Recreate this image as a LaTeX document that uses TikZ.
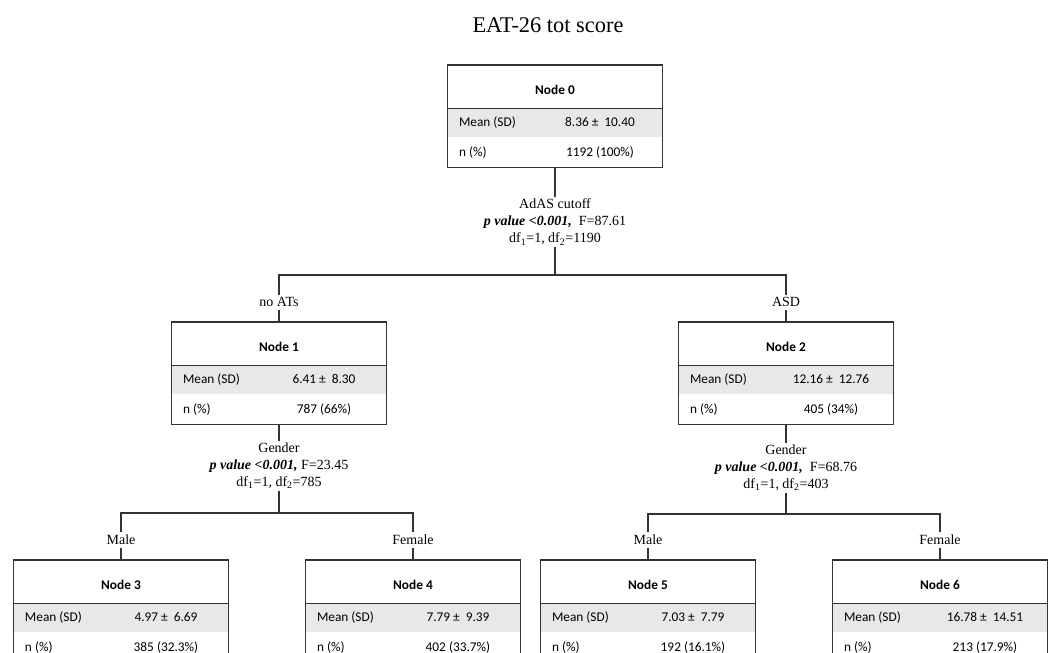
\documentclass[tikz,border=0pt]{standalone}
\usepackage{fontspec}
\setmainfont{Liberation Serif}
\newfontfamily\boxfont{Carlito}
\usetikzlibrary{positioning}
\definecolor{rowgray}{HTML}{E8E8E8}
\definecolor{linegray}{HTML}{333333}

\begin{document}
\begin{tikzpicture}[x=0.75pt, y=-0.75pt,
    hdr/.style={minimum width=160.5pt, minimum height=32.25pt, anchor=north, inner sep=0pt,
      text height=12pt, text depth=0pt, font={\fontsize{10}{12}\selectfont\boxfont\bfseries}},
    meanrow/.style={fill=rowgray, minimum width=160.5pt, minimum height=21pt, anchor=north, inner sep=0pt,
      font={\fontsize{10}{12}\selectfont\boxfont}},
    nrow/.style={meanrow, fill=none, minimum height=22.5pt},
    frame/.style={draw=linegray, line width=1pt},
    conn/.style={draw=linegray, line width=0.9pt},
    splitlbl/.style={align=center, inner sep=1.5pt, font={\fontsize{10.5}{12.75}\selectfont}},
    brlbl/.style={inner sep=2pt, font={\fontsize{10.5}{12.75}\selectfont}}
    ]
    \useasboundingbox (0,0) rectangle (1051,653);
    \clip (0,0) rectangle (1051,653);
    \node[font=\fontsize{16.8}{20}\selectfont] (title) at (548,25) {EAT-26 tot score};
    % boxes
    \foreach \k/\x/\y/\mval/\nval in {
        0/555/65/{8.36 ±~ 10.40}/{1192 (100\%)},
        1/279/322/{6.41 ±~ 8.30}/{787 (66\%)},
        2/786/322/{12.16 ±~ 12.76}/{405 (34\%)},
        3/121/560/{4.97 ±~ 6.69}/{385 (32.3\%)},
        4/413/560/{7.79 ±~ 9.39}/{402 (33.7\%)},
        5/648/560/{7.03 ±~ 7.79}/{192 (16.1\%)},
        6/940/560/{16.78 ±~ 14.51}/{213 (17.9\%)}}{
        \node[hdr] (n\k) at (\x,\y) {Node \k\hspace{9pt}};
        \node[meanrow] (n\k m) at (n\k.south) {\makebox[67.5pt][l]{Mean (SD)}\makebox[76.5pt]{\mval}};
        \node[nrow] (n\k n) at (n\k m.south) {\makebox[67.5pt][l]{n (\%)}\makebox[76.5pt]{\nval}};
        \draw[frame] (n\k.north west) rectangle (n\k n.south east);
        \draw[frame] (n\k.south west) -- (n\k.south east);
    }
    % splits
    \node[splitlbl] (s0) at (555,222) {AdAS cutoff\\ \textbf{\textit{p value <0.001,}}~~F=87.61\\ df\textsubscript{1}=1, df\textsubscript{2}=1190};
    \node[splitlbl] (s1) at (279,466) {Gender\\ \textbf{\textit{p value <0.001,}} F=23.45\\ df\textsubscript{1}=1, df\textsubscript{2}=785};
    \node[splitlbl] (s2) at (786,468) {Gender\\ \textbf{\textit{p value <0.001,}}~~F=68.76\\ df\textsubscript{1}=1, df\textsubscript{2}=403};
    \coordinate (b0) at (555,275);
    \coordinate (b1) at (279,513);
    \coordinate (b2) at (786,514);
    \node[brlbl, above=9pt of n1] (l1) {no ATs};
    \node[brlbl, above=9pt of n2] (l2) {ASD};
    \node[brlbl, above=9pt of n3] (l3) {Male};
    \node[brlbl, above=9pt of n4] (l4) {Female};
    \node[brlbl, above=9pt of n5] (l5) {Male};
    \node[brlbl, above=9pt of n6] (l6) {Female};
    % connectors
    \draw[conn] (n0n.south) -- (s0.north);
    \draw[conn] (s0.south) -- (b0);
    \draw[conn] (l1.north) |- (b0) -| (l2.north);
    \draw[conn] (l1.south) -- (n1.north);
    \draw[conn] (l2.south) -- (n2.north);
    \draw[conn] (n1n.south) -- (s1.north);
    \draw[conn] (s1.south) -- (b1);
    \draw[conn] (l3.north) |- (b1) -| (l4.north);
    \draw[conn] (l3.south) -- (n3.north);
    \draw[conn] (l4.south) -- (n4.north);
    \draw[conn] (n2n.south) -- (s2.north);
    \draw[conn] (s2.south) -- (b2);
    \draw[conn] (l5.north) |- (b2) -| (l6.north);
    \draw[conn] (l5.south) -- (n5.north);
    \draw[conn] (l6.south) -- (n6.north);
\end{tikzpicture}
\end{document}
